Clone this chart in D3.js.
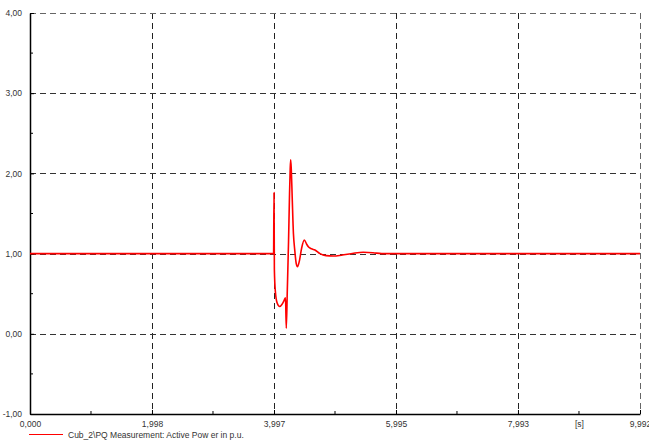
<!DOCTYPE html>
<html>
<head>
<meta charset="utf-8">
<script src="https://cdn.jsdelivr.net/npm/d3@7"></script>
<style>
  body { margin: 0; background: #fff; }
  text { font-family: "Liberation Sans", Arial, sans-serif; }
</style>
</head>
<body>
<div id="chart"></div>
<script>

// time axis [s] and active power [p.u.]
var times = [0, 3.990, 3.997, 4.003, 4.020, 4.050, 4.090, 4.130, 4.165, 4.185, 4.198,
             4.215, 4.235, 4.250, 4.262, 4.270, 4.280, 4.295, 4.315, 4.336, 4.360, 4.382,
             4.410, 4.450, 4.493, 4.530, 4.559, 4.610, 4.668, 4.750, 4.850, 4.968, 5.100,
             5.300, 5.459, 5.620, 5.761, 6.200, 9.992];
var power = [1.00, 1.00, 1.76, 0.80, 0.52, 0.38, 0.34, 0.37, 0.42, 0.45, 0.07,
             0.55, 1.15, 1.70, 2.05, 2.17, 2.05, 1.70, 1.25, 1.05, 0.88, 0.837,
             0.90, 1.07, 1.17, 1.12, 1.086, 1.06, 1.045, 1.00, 0.975, 0.97, 0.98,
             1.005, 1.016, 1.01, 1.00, 1.00, 1.00];

var xTicks = [0, 1.998, 3.997, 5.995, 7.993, 9.992];
var xTickLabels = ["0,000", "1,998", "3,997", "5,995", "7,993", "9,992"];
var yTicks = [-1, 0, 1, 2, 3, 4];
var yTickLabels = ["-1,00", "0,00", "1,00", "2,00", "3,00", "4,00"];
var legendLabel = "Cub_2\\PQ Measurement: Active Pow er in p.u.";

var W = 649, H = 441;
var margin = {top: 13, right: 9, bottom: 27, left: 30},
    width = W - margin.left - margin.right,
    height = H - margin.top - margin.bottom;

var x = d3.scaleLinear().domain([0, 9.992]).range([0, width]);
var y = d3.scaleLinear().domain([-1, 4]).range([height, 0]);

var svg = d3.select("#chart").append("svg")
    .attr("width", W)
    .attr("height", H);

var g = svg.append("g")
    .attr("transform", "translate(" + margin.left + "," + margin.top + ")");

// grid
g.selectAll(".vgrid")
    .data(xTicks.slice(1, -1))
  .enter().append("line")
    .attr("x1", function(d) { return Math.round(x(d)) + 0.5; })
    .attr("x2", function(d) { return Math.round(x(d)) + 0.5; })
    .attr("y1", 0)
    .attr("y2", height)
    .attr("stroke", "#222")
    .attr("stroke-dasharray", "6,4");

g.selectAll(".hgrid")
    .data(yTicks.slice(1, -1))
  .enter().append("line")
    .attr("x1", 0)
    .attr("x2", width)
    .attr("y1", function(d) { return Math.round(y(d)) + 0.5; })
    .attr("y2", function(d) { return Math.round(y(d)) + 0.5; })
    .attr("stroke", "#333")
    .attr("stroke-dasharray", "6,4");

// top and right border
g.append("line")
    .attr("x1", 0).attr("x2", width)
    .attr("y1", 0.5).attr("y2", 0.5)
    .attr("stroke", "#666")
    .attr("stroke-dasharray", "6,4");
g.append("line")
    .attr("x1", width + 0.5).attr("x2", width + 0.5)
    .attr("y1", 0).attr("y2", height)
    .attr("stroke", "#666")
    .attr("stroke-dasharray", "6,4");

// axes
var xAxis = d3.axisBottom(x)
    .tickValues(xTicks)
    .tickFormat(function(d, i) { return xTickLabels[i]; })
    .tickSizeInner(-4)
    .tickSizeOuter(0)
    .tickPadding(7);

var gx = g.append("g")
    .attr("transform", "translate(0," + height + ")")
    .call(xAxis);

var yAxis = d3.axisLeft(y)
    .tickValues(yTicks)
    .tickFormat(function(d, i) { return yTickLabels[i]; })
    .tickSizeInner(-4)
    .tickSizeOuter(0)
    .tickPadding(8);

var gy = g.append("g").call(yAxis);

[gx, gy].forEach(function(a) {
  a.select(".domain").attr("stroke", "#000").attr("stroke-width", 1.5);
  a.selectAll(".tick line").attr("stroke", "#000");
  a.selectAll("text")
    .attr("font-size", "8.5px")
    .attr("font-family", "Liberation Sans, Arial, sans-serif")
    .attr("fill", "#333");
});

// minor ticks
var xMinor = xTicks.slice(0, -1).map(function(d, i) { return (d + xTicks[i + 1]) / 2; });
g.selectAll(".xminor")
    .data(xMinor)
  .enter().append("line")
    .attr("x1", function(d) { return x(d); })
    .attr("x2", function(d) { return x(d); })
    .attr("y1", height)
    .attr("y2", height - 3)
    .attr("stroke", "#000");

var yMinor = yTicks.slice(0, -1).map(function(d) { return d + 0.5; });
g.selectAll(".yminor")
    .data(yMinor)
  .enter().append("line")
    .attr("x1", 0)
    .attr("x2", 3)
    .attr("y1", function(d) { return y(d); })
    .attr("y2", function(d) { return y(d); })
    .attr("stroke", "#000");

// unit label
g.append("text")
    .attr("x", x(9.0))
    .attr("y", height + 13)
    .attr("text-anchor", "middle")
    .attr("font-size", "8.5px")
    .attr("fill", "#333")
    .text("[s]");

// the curve
var pts = times.map(function(t, i) { return [t, power[i]]; });
var line = d3.line()
    .x(function(d) { return x(d[0]); })
    .y(function(d) { return y(d[1]); })
    .curve(d3.curveMonotoneX);

g.append("path")
    .datum(pts)
    .attr("fill", "none")
    .attr("stroke", "#ff0000")
    .attr("stroke-width", 1.6)
    .attr("stroke-linejoin", "round")
    .attr("d", line);

// legend
svg.append("line")
    .attr("x1", 29).attr("x2", 63)
    .attr("y1", 434.5).attr("y2", 434.5)
    .attr("stroke", "#ff0000")
    .attr("stroke-width", 1.2);

svg.append("text")
    .attr("x", 68)
    .attr("y", 437.5)
    .attr("font-size", "8.5px")
    .attr("fill", "#333")
    .text(legendLabel);

</script>
</body>
</html>
